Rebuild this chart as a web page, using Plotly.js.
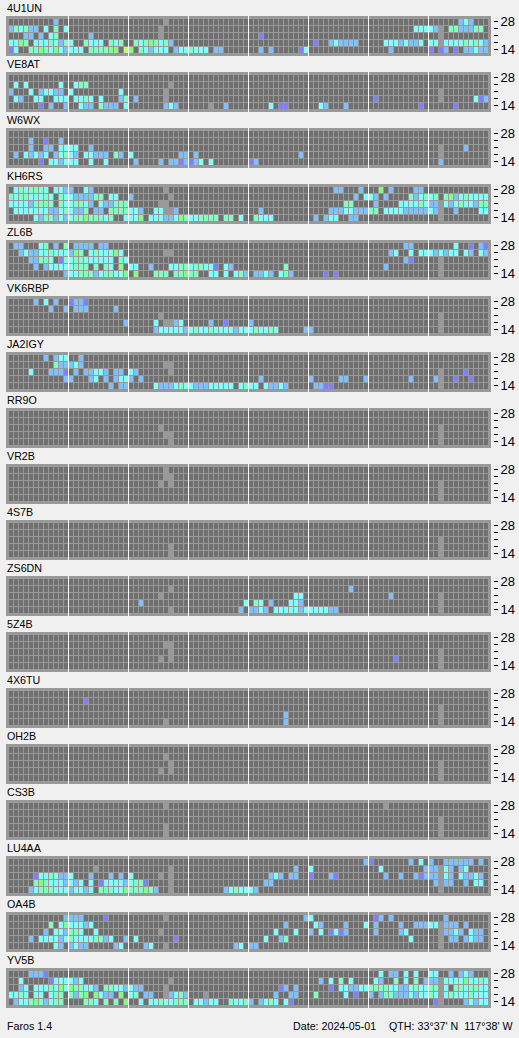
<!DOCTYPE html>
<html><head><meta charset="utf-8">
<script src="https://cdn.plot.ly/plotly-3.0.1.min.js"></script>
<style>html,body{margin:0;padding:0;background:#f0f0f0;overflow:hidden}</style>
</head><body><div id="chart" style="width:519px;height:1038px"></div>
<script>
// rows run top to bottom: 28, 24, 21, 18, 14 MHz; each row = 96 quarter-hours in 12-slot groups.
// . none, 1..6 signal level, 7 no data
const bands = ["14","18","21","24","28"];
const E = "............";
const s4U1UN = [
".........2.. "+E+" .......7.... "+E+" "+E+" "+E+" "+E+" ......232...",
"243422.3.4.3 "+E+" ......7..... "+E+" "+E+" "+E+" .........333 327.4422244.",
"...22.2.34.. ....2....... ......7..... "+E+" ..1......... "+E+" "+E+" ..7.........",
"3354.3334324 3..4333.434. .43454342... "+E+" "+E+" .1..232222.. ...33323223. 337333343432",
"13..44543532 333.444455.6 5.432333.233 4333.22..... ..2.2.....13 "+E+" ....2....... 1.12.1.22322"];
const sVE8AT = [
E+" "+E+" "+E+" "+E+" "+E+" "+E+" "+E+" "+E,
".3.3......3. .344........ ........7... "+E+" "+E+" "+E+" "+E+" "+E,
"2...3.23322. 3.........3. .......7.... "+E+" "+E+" "+E+" "+E+" ..7.........",
".32..33..333 .3343.3...24 .2.....7.... "+E+" "+E+" "+E+" .1.......... ..7......312",
"......1.2..2 ..322.4222.3 .......232.. ....7..2.... ....3.11.... ..32...2.... ..........1. .....1......"];
const sW6WX = [
E+" "+E+" "+E+" "+E+" "+E+" "+E+" "+E+" "+E,
"....2..1..2. "+E+" "+E+" "+E+" "+E+" "+E+" "+E+" "+E,
"....2..22.33 33..2....... "+E+" "+E+" "+E+" "+E+" "+E+" ..7....2....",
".2.32323.234 32.33222.42. 3.........22 .2.......... ..........2. "+E+" "+E+" ..7.........",
"......1.3323 33..3..3.... .2....2.2212 123.3....... 12.......... "+E+" "+E+" ..2........."];
const sKH6RS = [
".3434443.332 2..32....... .......7.... "+E+" "+E+" .....22...2. ..5.2....22. "+E,
"434433343.43 3222244.33.. 2.......7... "+E+" "+E+" .........2.3 32.2....4234 34.452343333",
"333324444.43 34432.322444 ......77.... "+E+" "+E+" .......44... .2....333343 227323433244",
".33333332234 3224.22.4444 332..33772.. "+E+" ..2......... ....22233222 44.333322222 327..2....33",
".....3244232 344544434..3 335.33322354 334444.44.3. .4333....... .2.233..22.. "+E+" ..7........."];
const sZL6B = [
".22...34.2.4 .2222.22.... "+E+" "+E+" "+E+" "+E+" .......22... .....3..1.21",
"..2322334333 254.3433353. .......77... "+E+" "+E+" "+E+" ....23..3.33 323233.32.32",
"....22443.14 344333333.43 "+E+" "+E+" "+E+" "+E+" .......21... ..7.........",
".....2.23333 3444.4.43.5. 33..2...3344 344331.32... .......4.... "+E+" ...2........ ..7.........",
"...........2 334442344335 .5...444.445 44..33.3.342 .2232.342... ...1.1...... "+E+" ..7........."];
const sVK6RBP = [
".....2.3.2.. 1221........ "+E+" "+E+" "+E+" "+E+" "+E+" "+E,
"........2..2 .222.....2.. "+E+" "+E+" "+E+" "+E+" "+E+" "+E,
E+" "+E+" ......7..... "+E+" "+E+" "+E+" "+E+" ..7.........",
E+" ...........2 .....3.7723. ....2..1.... 2........... "+E+" "+E+" ..7.........",
E+" "+E+" .....2333332 343343333233 343343.....2 2........... "+E+" ..7........."];
const sJA2IGY = [
".......2.233 ..2......... "+E+" "+E+" "+E+" "+E+" "+E+" "+E,
".........422 232......... .......77... "+E+" "+E+" "+E+" "+E+" "+E,
"....3...2221 .2.22332.22. 32......7... "+E+" "+E+" "+E+" "+E+" ..7....1....",
"...........2 2...23.2.233 2.2......... "+E+" ..2......... 2.....22...2 ........2... .27..1..1...",
E+" ........2.22 .....3222343 322233333.34 33.32232.... .2211....... "+E+" ..7........."];
const sRR9O = [
E+" "+E+" "+E+" "+E+" "+E+" "+E+" "+E+" "+E,
E+" "+E+" "+E+" "+E+" "+E+" "+E+" "+E+" "+E,
E+" "+E+" ......7..... "+E+" "+E+" "+E+" "+E+" ..7.........",
E+" "+E+" .......77... "+E+" "+E+" "+E+" "+E+" ..7.........",
E+" "+E+" ........7... "+E+" "+E+" "+E+" "+E+" ..7........."];
const sVR2B = [
E+" "+E+" .......7.... "+E+" "+E+" "+E+" "+E+" "+E,
E+" "+E+" .......77... "+E+" "+E+" "+E+" "+E+" "+E,
E+" "+E+" ......7.7... "+E+" "+E+" "+E+" "+E+" ..7.........",
E+" "+E+" "+E+" "+E+" "+E+" "+E+" "+E+" ..7.........",
E+" "+E+" "+E+" "+E+" "+E+" "+E+" "+E+" ..7........."];
const s4S7B = [
E+" "+E+" "+E+" "+E+" "+E+" "+E+" "+E+" "+E,
E+" "+E+" "+E+" "+E+" "+E+" "+E+" "+E+" "+E,
E+" "+E+" "+E+" "+E+" "+E+" "+E+" "+E+" ..7.........",
E+" "+E+" ........7... "+E+" "+E+" "+E+" "+E+" ..7.........",
E+" "+E+" ........7... "+E+" "+E+" "+E+" "+E+" ..7........."];
const sZS6DN = [
E+" "+E+" "+E+" "+E+" "+E+" "+E+" "+E+" "+E,
E+" "+E+" ........7... "+E+" "+E+" ........2... "+E+" "+E,
E+" "+E+" ......7..... "+E+" .........33. "+E+" ....2....... ..7.........",
E+" "+E+" ..2......... ...........3 .43.2...332. "+E+" "+E+" ..7.........",
E+" "+E+" ........7... ..........2. 2232.3333323 333322...... "+E+" ..7........."];
const s5Z4B = [
E+" "+E+" "+E+" "+E+" "+E+" "+E+" "+E+" "+E,
E+" "+E+" .......77... "+E+" "+E+" "+E+" "+E+" "+E,
E+" "+E+" ........7... "+E+" "+E+" "+E+" "+E+" ..7.........",
E+" "+E+" ......7.7... "+E+" "+E+" "+E+" .....1...... ..7.........",
E+" "+E+" "+E+" "+E+" "+E+" "+E+" "+E+" ..7........."];
const s4X6TU = [
E+" "+E+" "+E+" "+E+" "+E+" "+E+" "+E+" "+E,
E+" ...1........ "+E+" "+E+" "+E+" "+E+" "+E+" "+E,
E+" "+E+" "+E+" "+E+" "+E+" "+E+" "+E+" ..7.........",
E+" "+E+" "+E+" "+E+" .......2.... "+E+" "+E+" ..7.........",
E+" "+E+" .......7.... "+E+" .......2.... "+E+" "+E+" ..7........."];
const sOH2B = [
E+" "+E+" "+E+" "+E+" "+E+" "+E+" "+E+" "+E,
E+" "+E+" .......7.... "+E+" "+E+" "+E+" "+E+" "+E,
E+" "+E+" ........7... "+E+" "+E+" "+E+" "+E+" ..7.........",
E+" "+E+" ......7.7... "+E+" "+E+" "+E+" "+E+" ..7.........",
E+" "+E+" "+E+" "+E+" "+E+" "+E+" "+E+" ..7........."];
const sCS3B = [
E+" "+E+" .......7.... "+E+" "+E+" "+E+" ...7........ "+E,
E+" "+E+" "+E+" "+E+" "+E+" "+E+" "+E+" "+E,
E+" "+E+" "+E+" "+E+" "+E+" "+E+" "+E+" ..7.........",
E+" "+E+" .......7.... "+E+" "+E+" "+E+" "+E+" ..7.........",
E+" "+E+" .......7.... "+E+" "+E+" "+E+" "+E+" ..7........."];
const sLU4AA = [
E+" "+E+" "+E+" "+E+" "+E+" ...........2 1.......2.3. 2..222222.2.",
E+" .....7...... ........7... "+E+" .........2.. 3........... ..3........2 22732.23....",
".....1334322 3...2...2.2. 3.....7.7... "+E+" ....232.22.. 1...21...... ...2..2..212 22732.32232.",
".....4543332 323.3.133332 3441....7... "+E+" ...22....... "+E+" "+E+" .2722..2.33.",
"....23444333 23323.444335 444542..7... .......23433 32.......... "+E+" "+E+" ..7........."];
const sOA4B = [
"...........2 222....1.... .......7.... "+E+" ...........2 3........... .12.2....... ...2........",
"........4.35 33323....... "+E+" "+E+" .......2.... .32....2...3 .2....2..222 337222.2....",
".......2.332 443..3...... ......7..... "+E+" .....3...3.. 2.3.1312.... .2....23.... ..72232.322.",
"....2.333323 433334423..2 .3.......1.. "+E+" ...3..24.... "+E+" ........3... ..7.22.2322.",
".........32. 2322.....23. ...23..7.... .........23. 22.......... "+E+" "+E+" ..7........."];
const sYV5B = [
"....2221.... "+E+" "+E+" "+E+" "+E+" "+E+" ..3.22.3.3.. 33..2.232...",
"..3.....1333 323......... ........7... "+E+" "+E+" ..2.3.4.3... .32..4.3.4.2 227333353343",
"..23.3334353 544332.44332 322....7.... "+E+" ......12.2.. ....1.332233 444433223433 4473.4434433",
"3343.33.344. 4245.5322.5. 34.22..72342 ...7........ .....2..22.. .4.....3.1.. 2.2442223233 437343334333",
".2334542344. ...443.4.4.5 ..3.33433444 .33233..4334 2.2343.31... "+E+" "+E+" .17....23233"];

const stations = ["4U1UN","VE8AT","W6WX","KH6RS","ZL6B","VK6RBP","JA2IGY","RR9O","VR2B","4S7B","ZS6DN","5Z4B","4X6TU","OH2B","CS3B","LU4AA","OA4B","YV5B"];
const rowsByStation = [s4U1UN,sVE8AT,sW6WX,sKH6RS,sZL6B,sVK6RBP,sJA2IGY,sRR9O,sVR2B,s4S7B,sZS6DN,s5Z4B,s4X6TU,sOH2B,sCS3B,sLU4AA,sOA4B,sYV5B];
const levelColors = ["#707070","#8080ff","#80c0ff","#80ffff","#80ffc0","#80ff80","#c0ff80","#999999"];
const footerLeft = "Faros 1.4", footerDate = "Date: 2024-05-01", footerQth = "QTH: 33°37' N  117°38' W";

const W=519,H=1038,PANEL_TOP=16,PANEL_H=40,PITCH=56,LEFT=6,RIGHT=491;
const scale=[];levelColors.forEach((c,i)=>{scale.push([i/8,c],[(i+1)/8,c]);});
const slots=Array.from({length:96},(_,i)=>i);
const font={family:'"Liberation Sans",Arial,sans-serif',size:10.7,color:"#000"};
const layout={width:W,height:H,margin:{l:0,r:0,t:0,b:0,pad:0},paper_bgcolor:"#f0f0f0",plot_bgcolor:"#999999",showlegend:false,
  xaxis:{domain:[LEFT/W,RIGHT/W],range:[-1.1,95.9],tickmode:"array",tickvals:[11.4,23.4,35.4,47.4,59.4,71.4,83.4],ticks:"",showticklabels:false,
    showgrid:true,gridcolor:"#ffffff",gridwidth:1,zeroline:false,showline:false,fixedrange:true},
  annotations:[]};
const traces=[];
stations.forEach((name,i)=>{
  const z=rowsByStation[i].slice().reverse().map(r=>{
    const s=r.replace(/ /g,"");
    if(s.length!==96) throw new Error(name+" row length "+s.length+": "+r);
    return s.split("").map(ch=>ch==="."?0:+ch);
  });
  const ya=i===0?"yaxis":"yaxis"+(i+1);
  const top=PANEL_TOP+i*PITCH;
  layout[ya]={domain:[1-(top+PANEL_H)/H,1-top/H],range:[4-33.5/7,4+6.5/7],anchor:"free",position:493/W,side:"right",
    tickmode:"array",tickvals:[0,1,2,3,4].map(v=>v+1/7),ticktext:[bands[0],"","","",bands[4]],ticks:"outside",ticklen:4,tickwidth:1,tickcolor:"#000",
    tickfont:{family:font.family,size:13,color:"#000"},showgrid:false,zeroline:false,showline:false,fixedrange:true};
  traces.push({type:"heatmap",x:slots,y:[0,1,2,3,4],z:z,xaxis:"x",yaxis:i===0?"y":"y"+(i+1),xgap:1,ygap:1,
    zmin:-0.5,zmax:7.5,colorscale:scale,showscale:false,hoverinfo:"skip"});
  layout.annotations.push({text:name,xref:"paper",yref:"paper",x:(LEFT-0.5)/W,y:1-(top-8)/H,xanchor:"left",yanchor:"middle",showarrow:false,font:font,borderpad:0});
});
[[footerLeft,5.5],[footerDate,291.5],[footerQth,387.5]].forEach(([t,x])=>{
  layout.annotations.push({text:t,xref:"paper",yref:"paper",x:x/W,y:1-1026/H,xanchor:"left",yanchor:"middle",showarrow:false,font:font,borderpad:0});
});
Plotly.newPlot("chart",traces,layout,{displayModeBar:false,staticPlot:true});
</script></body></html>
